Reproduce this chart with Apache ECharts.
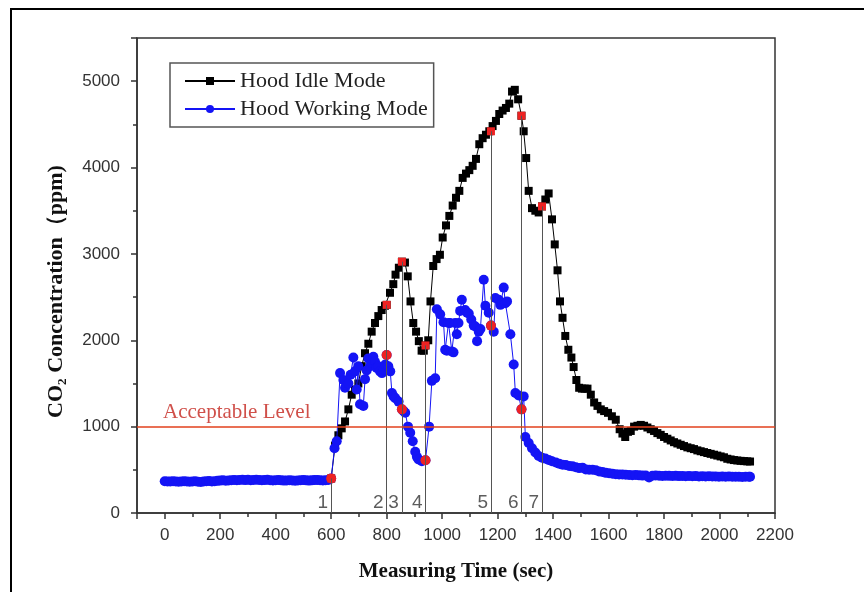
<!DOCTYPE html>
<html>
<head>
<meta charset="utf-8">
<script src="https://cdn.jsdelivr.net/npm/echarts@6/dist/echarts.min.js"></script>
<style>
  html, body { margin: 0; padding: 0; background: #fff; }
  #chart { width: 864px; height: 592px; }
</style>
</head>
<body>
<div id="chart"></div>
<script>
// 罩子空闲模式 (black squares)
var idleTime = [600, 614, 626, 638, 650, 662, 674, 686, 698, 710, 722, 734, 746, 758, 770, 782, 794, 800,
  812, 824, 832, 844, 855, 866, 876, 886, 896, 906, 916, 926, 934, 940, 950, 958, 968, 980, 992,
  1002, 1014, 1026, 1038, 1050, 1062, 1074, 1086, 1098, 1110, 1122, 1134, 1146, 1158, 1170, 1182,
  1194, 1206, 1218, 1230, 1242, 1252, 1262, 1274, 1286, 1294, 1303, 1312, 1324, 1336, 1348, 1360,
  1372, 1384, 1396, 1406, 1416, 1425, 1434, 1444, 1455, 1466, 1474, 1484, 1494, 1504, 1514, 1524,
  1536, 1548, 1560, 1572, 1584, 1598, 1612, 1626, 1640, 1650, 1660, 1670, 1680, 1692, 1704, 1716,
  1728, 1740, 1752, 1764, 1776, 1788, 1800, 1812, 1824, 1836, 1848, 1860, 1872, 1884, 1896, 1908,
  1920, 1932, 1944, 1956, 1968, 1980, 1992, 2004, 2016, 2028, 2040, 2052, 2064, 2076, 2088, 2100, 2110];
var idleCO2 = [400, 780, 900, 980, 1060, 1200, 1370, 1430, 1500, 1700, 1850, 1960, 2100, 2200, 2280, 2350, 2400, 2410,
  2550, 2650, 2760, 2840, 2910, 2900, 2740, 2450, 2200, 2100, 1990, 1880, 1880, 1940, 2000, 2450, 2860, 2940, 2990,
  3190, 3330, 3440, 3560, 3650, 3730, 3880, 3930, 3970, 4020, 4100, 4270, 4340, 4380, 4420, 4480,
  4540, 4620, 4660, 4690, 4740, 4880, 4900, 4790, 4600, 4420, 4110, 3730, 3530, 3500, 3480, 3550,
  3630, 3700, 3400, 3110, 2810, 2450, 2260, 2050, 1890, 1800, 1690, 1540, 1450, 1440, 1440, 1440,
  1370, 1280, 1240, 1200, 1180, 1160, 1120, 1080, 970, 920, 880, 940, 950, 1000, 1010, 1020,
  1010, 990, 970, 950, 925, 905, 880, 860, 840, 820, 805, 790, 775, 760, 750, 740,
  725, 715, 705, 695, 685, 675, 665, 655, 645, 628, 620, 613, 608, 604, 601, 598, 596];

// 罩子工作模式 (blue circles)
var workTime = [0, 10, 20, 30, 40, 50, 60, 70, 80, 90, 100, 110, 120, 130, 140, 150, 160, 170, 180, 190,
  200, 210, 220, 230, 240, 250, 260, 270, 280, 290, 300, 310, 320, 330, 340, 350, 360, 370, 380, 390,
  400, 410, 420, 430, 440, 450, 460, 470, 480, 490, 500, 510, 520, 530, 540, 550, 560, 570, 580, 590,
  600, 612, 620, 632, 644, 650, 662, 670, 680, 686, 692, 698, 704, 716, 722, 728, 734, 740, 746, 752,
  758, 764, 770, 776, 783, 789, 795, 800, 806, 813, 819, 825, 831, 843, 855, 861, 867, 877, 885, 894,
  903, 909, 915, 927, 940, 953, 963, 975, 981, 993, 1005, 1011, 1017, 1023, 1029, 1035, 1041, 1047, 1053, 1059,
  1065, 1071, 1083, 1090, 1096, 1105, 1114, 1120, 1126, 1132, 1138, 1150, 1156, 1168, 1176, 1186, 1192, 1204, 1210, 1216,
  1222, 1228, 1234, 1246, 1258, 1264, 1276, 1286, 1294, 1300, 1312, 1324, 1336, 1348, 1360, 1372, 1384, 1396, 1410, 1422,
  1434, 1446, 1458, 1470, 1482, 1494, 1506, 1518, 1530, 1542, 1554, 1566, 1578, 1590, 1602, 1614, 1626, 1638, 1650, 1662,
  1674, 1686, 1698, 1710, 1722, 1734, 1746, 1758, 1770, 1782, 1794, 1806, 1818, 1830, 1842, 1854, 1866, 1878, 1890, 1902,
  1914, 1926, 1938, 1950, 1962, 1974, 1986, 1998, 2010, 2022, 2034, 2046, 2058, 2070, 2082, 2094, 2106, 2110];
var workCO2 = [368, 366, 364, 367, 365, 363, 366, 368, 364, 362, 365, 367, 363, 360, 364, 368, 370, 366, 369, 372,
  375, 378, 374, 377, 380, 383, 379, 382, 385, 381, 384, 380, 383, 386, 382, 379, 381, 384, 380, 377,
  379, 382, 378, 375, 377, 380, 376, 373, 376, 379, 381, 378, 375, 378, 381, 383, 380, 377, 380, 382,
  400, 750, 830, 1620, 1540, 1450, 1500, 1600, 1800, 1640, 1430, 1700, 1260, 1240, 1550, 1650, 1790, 1700, 1740, 1810,
  1750, 1680, 1700, 1640, 1620, 1660, 1720, 1830, 1700, 1640, 1390, 1350, 1330, 1290, 1200, 1180, 1160, 1000, 930, 830,
  710, 650, 620, 600, 610, 1000, 1530, 1560, 2360, 2300, 2210, 1890, 1880, 2200, 2200, 1870, 1860, 2200, 2070, 2200,
  2340, 2470, 2350, 2320, 2310, 2240, 2170, 2160, 1990, 2100, 2130, 2700, 2400, 2320, 2170, 2100, 2490, 2470, 2410, 2430,
  2610, 2430, 2450, 2070, 1720, 1390, 1360, 1200, 1350, 880, 810, 750, 700, 660, 640, 630, 615, 600, 585, 570,
  560, 555, 545, 540, 530, 520, 525, 505, 500, 500, 495, 480, 475, 465, 460, 455, 450, 445, 445, 442,
  440, 438, 440, 436, 433, 435, 412, 432, 434, 431, 429, 432, 430, 428, 430, 427, 429, 426, 428, 425,
  427, 424, 426, 423, 425, 422, 424, 421, 423, 420, 422, 419, 421, 420, 418, 420, 419, 420];

// 标记点 (red) 与竖线
var markTime = [600, 800, 855, 940, 1176, 1286, 1360];
var markIdle = [400, 2410, 2910, 1940, 4420, 4600, 3550];
var markWorkTime = [600, 800, 855, 940, 1176, 1286];
var markWork = [400, 1830, 1200, 610, 2170, 1200];
var markTags = ['1', '2', '3', '4', '5', '6', '7'];
var tagLevel = 120;

var acceptLevel = 1000;
var yTicks = [0, 1000, 2000, 3000, 4000, 5000];

var serif = "'Liberation Serif', 'Times New Roman', serif";
var sans = "'Liberation Sans', Arial, sans-serif";

function pairs(xs, ys) {
  return xs.map(function (x, i) { return [x, ys[i]]; });
}

var chart = echarts.init(document.getElementById('chart'));

chart.setOption({
  animation: false,
  backgroundColor: '#fff',
  graphic: [
    { type: 'line', shape: { x1: 10, y1: 9, x2: 864, y2: 9 }, style: { stroke: '#000', lineWidth: 2 } },
    { type: 'line', shape: { x1: 11, y1: 9, x2: 11, y2: 592 }, style: { stroke: '#000', lineWidth: 2 } }
  ],
  legend: {
    data: ['Hood Idle Mode', 'Hood Working Mode'],
    orient: 'vertical',
    left: 170,
    top: 63,
    padding: [7, 6, 7, 14],
    itemGap: 6,
    itemWidth: 50,
    itemHeight: 10,
    borderColor: '#555',
    borderWidth: 1.5,
    textStyle: { fontFamily: serif, fontSize: 22, color: '#222' }
  },
  grid: { left: 137, right: 89, top: 38, bottom: 79, show: true, borderColor: '#333', borderWidth: 1.5 },
  xAxis: {
    type: 'value',
    min: -100,
    max: 2200,
    minInterval: 200,
    maxInterval: 200,
    name: 'Measuring Time (sec)',
    nameLocation: 'middle',
    nameGap: 48,
    nameTextStyle: { fontFamily: serif, fontWeight: 'bold', fontSize: 21, color: '#111' },
    axisLine: { show: true, onZero: false, lineStyle: { color: '#333', width: 1.5 } },
    axisTick: { show: true, length: 6, lineStyle: { color: '#333', width: 1.5 } },
    minorTick: { show: true, splitNumber: 2, length: 4, lineStyle: { color: '#333', width: 1.5 } },
    axisLabel: {
      margin: 14, fontFamily: sans, fontSize: 17, color: '#333', showMinLabel: false,
      formatter: function (v) { return v < 0 ? '' : String(v); }
    },
    splitLine: { show: false }
  },
  yAxis: {
    type: 'value',
    min: 0,
    max: 5500,
    interval: 1000,
    name: 'CO₂ Concentration（ppm)',
    nameLocation: 'middle',
    nameRotate: 90,
    nameGap: 70,
    nameTextStyle: { fontFamily: serif, fontWeight: 'bold', fontSize: 22, color: '#111', padding: [0, 32, 0, 0] },
    axisLine: { show: true, onZero: false, lineStyle: { color: '#333', width: 1.5 } },
    axisTick: { show: true, length: 6, lineStyle: { color: '#333', width: 1.5 } },
    minorTick: { show: true, splitNumber: 2, length: 4, lineStyle: { color: '#333', width: 1.5 } },
    axisLabel: {
      margin: 17, fontFamily: sans, fontSize: 17, color: '#333', showMaxLabel: false,
      formatter: function (v) { return yTicks.indexOf(v) >= 0 ? String(v) : ''; }
    },
    splitLine: { show: false }
  },
  series: [
    {
      // 竖线 + 可接受水平线
      name: 'guides',
      type: 'scatter',
      data: [],
      z: 1,
      silent: true,
      markLine: {
        symbol: 'none',
        silent: true,
        animation: false,
        data: markTime.map(function (t, i) {
          return [
            { coord: [t, 0], lineStyle: { color: '#555', width: 1, type: 'solid' }, label: { show: false } },
            { coord: [t, markIdle[i]] }
          ];
        }).concat([{
          yAxis: acceptLevel,
          lineStyle: { color: '#e2401c', width: 1.5, type: 'solid' },
          label: {
            show: true,
            position: 'insideStartTop',
            distance: [26, 4],
            formatter: 'Acceptable Level',
            fontFamily: serif,
            fontSize: 21,
            color: '#d0504a'
          }
        }])
      }
    },
    {
      name: 'Hood Idle Mode',
      type: 'line',
      data: pairs(idleTime, idleCO2),
      z: 2,
      symbol: 'rect',
      symbolSize: 8,
      showAllSymbol: true,
      color: '#000',
      lineStyle: { color: '#000', width: 1 },
      itemStyle: { color: '#000' }
    },
    {
      name: 'Hood Working Mode',
      type: 'line',
      data: pairs(workTime, workCO2),
      z: 3,
      symbol: 'circle',
      symbolSize: 10,
      showAllSymbol: true,
      color: '#1414f5',
      lineStyle: { color: '#1414f5', width: 1 },
      itemStyle: { color: '#1414f5' }
    },
    {
      name: 'idleMarks',
      type: 'scatter',
      data: pairs(markTime, markIdle),
      z: 4,
      symbol: 'rect',
      symbolSize: 8,
      itemStyle: { color: '#ee2222', opacity: 1 }
    },
    {
      name: 'workMarks',
      type: 'scatter',
      data: pairs(markWorkTime, markWork),
      z: 4,
      symbol: 'circle',
      symbolSize: 10,
      itemStyle: { color: '#ee2222', opacity: 1 }
    },
    {
      name: 'tags',
      type: 'scatter',
      data: markTime.map(function (t) { return [t, tagLevel]; }),
      z: 5,
      symbolSize: 0,
      silent: true,
      label: {
        show: true,
        position: 'left',
        distance: 3,
        formatter: function (p) { return markTags[p.dataIndex]; },
        fontFamily: sans,
        fontSize: 19,
        color: '#333'
      }
    }
  ]
});
</script>
</body>
</html>
